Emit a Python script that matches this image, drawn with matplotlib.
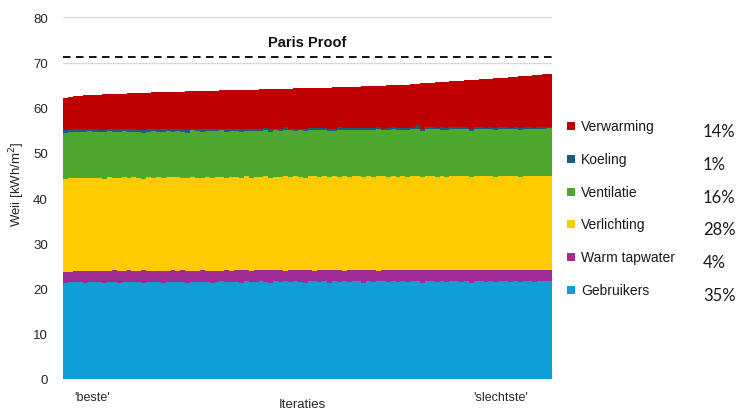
import numpy as np
import matplotlib
matplotlib.use("Agg")
import matplotlib.pyplot as plt
from matplotlib.patches import Rectangle

# ---------------- data ----------------
categories = ["Gebruikers", "Warm tapwater", "Verlichting", "Ventilatie", "Koeling", "Verwarming"]
percentages = ["35%", "4%", "28%", "16%", "1%", "14%"]
colors = ["#0F9ED5", "#A02B93", "#FFCB00", "#4EA72E", "#156082", "#C00000"]

gebruikers = [
    21.3, 21.4, 21.4, 21.5, 21.3, 21.5, 21.4, 21.5, 21.2, 21.5,
    21.5, 21.3, 21.5, 21.4, 21.5, 21.5, 21.2, 21.5, 21.4, 21.5,
    21.3, 21.5, 21.5, 21.4, 21.5, 21.2, 21.5, 21.5, 21.4, 21.5,
    21.3, 21.5, 21.6, 21.4, 21.5, 21.5, 21.2, 21.6, 21.5, 21.4,
    21.6, 21.5, 21.3, 21.6, 21.5, 21.6, 21.4, 21.6, 21.5, 21.3,
    21.6, 21.6, 21.5, 21.6, 21.3, 21.6, 21.5, 21.6, 21.4, 21.6,
    21.6, 21.3, 21.6, 21.5, 21.6, 21.6, 21.4, 21.6, 21.5, 21.7,
    21.4, 21.6, 21.6, 21.3, 21.7, 21.6, 21.5, 21.7, 21.4, 21.6,
    21.7, 21.5, 21.6, 21.3, 21.7, 21.6, 21.5, 21.7, 21.4, 21.7,
    21.6, 21.5, 21.7, 21.4, 21.7, 21.6, 21.5, 21.7, 21.6, 21.7,
]
warm_tapwater = [
    2.4, 2.3, 2.4, 2.4, 2.6, 2.3, 2.5, 2.4, 2.7, 2.4,
    2.5, 2.6, 2.4, 2.7, 2.4, 2.3, 2.8, 2.4, 2.5, 2.4,
    2.6, 2.4, 2.5, 2.4, 2.6, 2.7, 2.4, 2.3, 2.6, 2.4,
    2.6, 2.4, 2.3, 2.6, 2.4, 2.5, 2.8, 2.4, 2.3, 2.6,
    2.4, 2.5, 2.7, 2.4, 2.5, 2.3, 2.6, 2.4, 2.5, 2.7,
    2.4, 2.3, 2.5, 2.4, 2.7, 2.4, 2.5, 2.3, 2.6, 2.4,
    2.4, 2.7, 2.4, 2.5, 2.3, 2.4, 2.7, 2.4, 2.5, 2.3,
    2.6, 2.4, 2.5, 2.7, 2.3, 2.4, 2.5, 2.3, 2.7, 2.4,
    2.3, 2.5, 2.4, 2.8, 2.3, 2.4, 2.6, 2.4, 2.7, 2.3,
    2.5, 2.6, 2.3, 2.7, 2.4, 2.5, 2.6, 2.3, 2.5, 2.4,
]
verlichting = [
    20.6, 20.7, 20.6, 20.5, 20.6, 20.7, 20.5, 20.6, 20.4, 20.7,
    20.5, 20.6, 20.7, 20.4, 20.8, 20.6, 20.3, 20.7, 20.6, 20.8,
    20.5, 20.7, 20.6, 20.8, 20.4, 20.5, 20.8, 20.7, 20.5, 20.8,
    20.6, 20.7, 20.8, 20.5, 20.7, 20.6, 20.4, 20.8, 20.7, 20.6,
    20.7, 20.8, 20.5, 20.7, 20.6, 20.9, 20.6, 20.8, 20.7, 20.5,
    20.8, 20.9, 20.7, 20.8, 20.6, 20.8, 20.7, 20.9, 20.6, 20.8,
    20.8, 20.6, 20.9, 20.7, 20.9, 20.8, 20.5, 20.9, 20.7, 20.9,
    20.7, 20.9, 20.8, 20.6, 21.0, 20.8, 20.7, 20.9, 20.6, 20.9,
    21.0, 20.8, 20.9, 20.5, 21.0, 20.9, 20.7, 20.8, 20.6, 21.0,
    20.8, 20.7, 21.0, 20.6, 20.9, 20.8, 20.7, 21.0, 20.8, 20.9,
]
ventilatie = [
    10.2, 10.2, 10.3, 10.2, 10.1, 10.3, 10.2, 10.1, 10.3, 10.2,
    10.2, 10.1, 10.3, 10.2, 10.0, 10.3, 10.2, 10.1, 10.3, 10.0,
    10.3, 10.2, 10.1, 10.3, 10.2, 10.0, 10.3, 10.3, 10.2, 10.1,
    10.3, 10.2, 10.3, 10.1, 10.3, 10.2, 10.3, 10.0, 10.3, 10.2,
    10.2, 10.3, 10.1, 10.3, 10.2, 10.2, 10.4, 10.1, 10.3, 10.3,
    10.2, 10.3, 10.4, 10.2, 10.3, 10.1, 10.3, 10.3, 10.4, 10.2,
    10.3, 10.4, 10.2, 10.3, 10.4, 10.2, 10.4, 10.3, 10.4, 10.2,
    10.4, 10.3, 10.4, 10.2, 10.3, 10.4, 10.5, 10.2, 10.4, 10.3,
    10.3, 10.5, 10.4, 10.3, 10.2, 10.4, 10.5, 10.3, 10.4, 10.3,
    10.4, 10.5, 10.3, 10.4, 10.2, 10.5, 10.4, 10.3, 10.4, 10.5,
]
koeling = [
    0.5, 0.4, 0.5, 0.6, 0.4, 0.5, 0.7, 0.5, 0.4, 0.6,
    0.5, 0.6, 0.4, 0.5, 0.7, 0.4, 0.5, 0.6, 0.4, 0.5,
    0.6, 0.4, 0.5, 0.4, 0.6, 0.7, 0.4, 0.5, 0.6, 0.4,
    0.5, 0.6, 0.4, 0.7, 0.5, 0.4, 0.5, 0.6, 0.4, 0.5,
    0.4, 0.5, 0.6, 0.4, 0.5, 0.7, 0.4, 0.5, 0.4, 0.6,
    0.5, 0.4, 0.5, 0.6, 0.4, 0.5, 0.7, 0.4, 0.5, 0.5,
    0.4, 0.5, 0.4, 0.6, 0.5, 0.4, 0.5, 0.6, 0.4, 0.5,
    0.5, 0.4, 0.6, 0.5, 0.4, 0.5, 0.3, 0.6, 0.4, 0.5,
    0.4, 0.5, 0.4, 0.5, 0.6, 0.4, 0.3, 0.5, 0.4, 0.5,
    0.4, 0.3, 0.5, 0.4, 0.6, 0.3, 0.4, 0.5, 0.4, 0.3,
]
# total height of each stacked bar (top edge of Verwarming)
totaal = [
    62.1, 62.4, 62.55, 62.65, 62.72, 62.78, 62.84, 62.9, 62.95, 63.0,
    63.05, 63.1, 63.14, 63.18, 63.22, 63.26, 63.3, 63.34, 63.38, 63.42,
    63.45, 63.48, 63.51, 63.54, 63.57, 63.6, 63.63, 63.66, 63.69, 63.72,
    63.75, 63.78, 63.81, 63.84, 63.87, 63.9, 63.93, 63.96, 63.99, 64.02,
    64.05, 64.08, 64.11, 64.14, 64.17, 64.2, 64.23, 64.26, 64.29, 64.32,
    64.35, 64.38, 64.41, 64.44, 64.47, 64.5, 64.53, 64.56, 64.6, 64.64,
    64.68, 64.72, 64.76, 64.8, 64.84, 64.88, 64.92, 64.96, 65.0, 65.06,
    65.13, 65.2, 65.28, 65.36, 65.45, 65.53, 65.6, 65.67, 65.74, 65.81,
    65.88, 65.95, 66.03, 66.1, 66.18, 66.26, 66.33, 66.41, 66.49, 66.57,
    66.65, 66.74, 66.83, 66.92, 67.0, 67.1, 67.2, 67.3, 67.4, 67.5,
]
paris_proof = 71.2
xtick_labels = ["'beste'", "'slechtste'"]

lower = np.array([gebruikers, warm_tapwater, verlichting, ventilatie, koeling])
verwarming = np.array(totaal) - lower.sum(axis=0)
series = list(lower) + [verwarming]

# ---------------- plot ----------------
plt.rcParams['font.family'] = ['Liberation Sans', 'DejaVu Sans']
fig = plt.figure(figsize=(7.38, 4.14), dpi=100)
ax = fig.add_axes([63 / 738, 34 / 414, 489 / 738, (380 - 18.3) / 414])

n = len(gebruikers)
# bar edges: each iteration occupies one unit wide column, no gaps
edges = np.arange(n + 1) - 0.5
bottom = np.zeros(n)
for vals, c in zip(series, colors):
    top = bottom + np.asarray(vals)
    ax.fill_between(edges, np.append(bottom, bottom[-1]), np.append(top, top[-1]),
                    step="post", color=c, linewidth=0, zorder=2)
    bottom = top

ax.set_xlim(-0.5, n - 0.5)
ax.set_ylim(0, 80)
ax.set_yticks(np.arange(0, 81, 10))
ax.yaxis.grid(True, color="#D9D9D9", linewidth=1.0, zorder=0)
ax.set_axisbelow(True)
for s in ax.spines.values():
    s.set_visible(False)
ax.tick_params(axis="y", length=0, labelsize=9.5, colors="#262626", pad=11)
ax.tick_params(axis="x", length=0, labelsize=9, colors="#262626", pad=9)
ax.set_xticks([5.4, 89.1])
ax.set_xticklabels(xtick_labels)

# Paris Proof line
ax.axhline(paris_proof, color="black", linewidth=1.3, linestyle=(0, (4.2, 3.0)), zorder=3)
ax.annotate("Paris Proof", xy=(0.5, paris_proof), xycoords=("axes fraction", "data"),
            xytext=(0, 6), textcoords="offset points", ha="center", va="bottom",
            fontsize=10.5, fontweight="bold", color="#111111",
            family=["Liberation Sans Narrow", "Liberation Sans", "DejaVu Sans"])

# axis labels
fig.text(17 / 738, 1 - 184 / 414, "Weii [kWh/m$^2$]", rotation=90, ha="center",
         va="center", fontsize=9.5, color="#262626")
fig.text(302 / 738, 1 - 405 / 414, "Iteraties", ha="center", va="center",
         fontsize=9.5, color="#262626")

# manual legend with percentages
row_y = [291, 258, 225, 193, 160, 127]
for name, pct, c, yy in zip(categories, percentages, colors, row_y):
    fy = 1 - yy / 414
    fig.patches.append(Rectangle((567 / 738, fy - 4 / 414), 8 / 738, 8 / 414,
                                 transform=fig.transFigure, facecolor=c,
                                 edgecolor="none"))
    fig.text(581 / 738, fy, name, ha="left", va="center", fontsize=10,
             color="#1a1a1a")
    fig.text(703 / 738, fy - 5 / 414, pct, ha="left", va="center", fontsize=12,
             color="#1a1a1a", family=["Lato", "DejaVu Sans"])

fig.savefig("out.png", dpi=100)
